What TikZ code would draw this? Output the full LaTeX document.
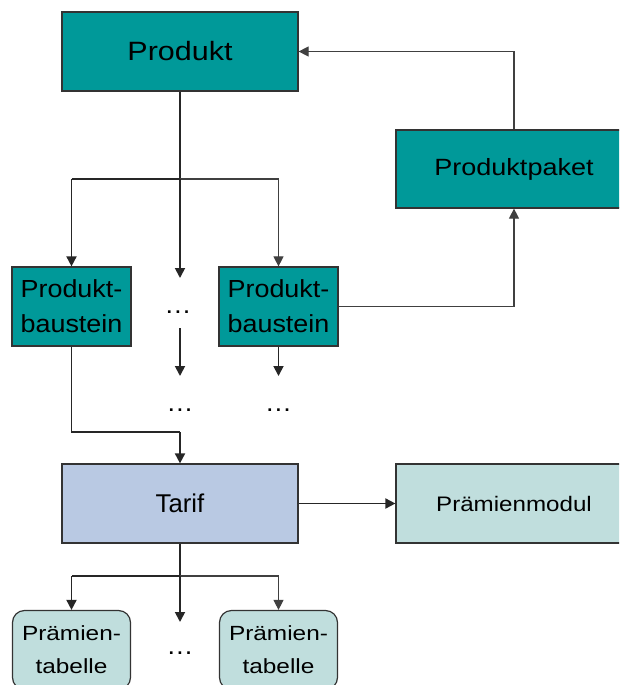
\documentclass[tikz,border=0pt]{standalone}
\usepackage{fontspec}
\setmainfont{Liberation Sans}
\newfontfamily\widesans{Liberation Sans}[FakeStretch=1.15]
\newfontfamily\widersans{Liberation Sans}[FakeStretch=1.19]
\newfontfamily\halfwidesans{Liberation Sans}[FakeStretch=1.09]
\usetikzlibrary{arrows.meta}
\definecolor{tealfill}{HTML}{009999}
\definecolor{tariffill}{HTML}{B9C9E3}
\definecolor{palefill}{HTML}{C0DEDD}
\definecolor{edge}{HTML}{333333}
\tikzset{
  box/.style={draw=edge, line width=1.2pt, rectangle, inner sep=0pt, align=center},
  mainbox/.style={box, fill=tealfill, minimum width=236pt, minimum height=79pt,
    font=\widesans\fontsize{26.5}{32}\selectfont},
  pkgbox/.style={box, fill=tealfill, minimum width=236pt, minimum height=78pt,
    font=\widesans\fontsize{23.5}{30}\selectfont},
  bausteinbox/.style={box, fill=tealfill, minimum width=119pt, minimum height=79pt,
    font=\halfwidesans\fontsize{24.7}{34.7}\selectfont},
  tarifbox/.style={box, fill=tariffill, minimum width=236pt, minimum height=79pt,
    font=\fontsize{25.7}{30}\selectfont},
  modulbox/.style={box, fill=palefill, minimum width=236pt, minimum height=79pt,
    font=\widesans\fontsize{21}{26}\selectfont},
  tabellebox/.style={box, fill=palefill, rounded corners=12pt, minimum width=118pt,
    minimum height=79pt, font=\widersans\fontsize{20.5}{33.3}\selectfont},
  dots/.style={font=\halfwidesans\fontsize{25}{30}\selectfont, inner sep=0pt},
  link/.style={draw=black!85, line width=1.8pt},
  thinlink/.style={draw=black!75, line width=1.1pt},
  tip/.style={-{Triangle[width=10pt,length=10pt]}},
}
\begin{document}
\begin{tikzpicture}[x=1pt,y=1pt]
  \useasboundingbox (0,0) rectangle (619,-685);
  \clip (0,0) rectangle (619,-685);

  % boxes
  \node[mainbox] (prod) at (180,-51.5) {Produkt};
  \node[pkgbox] (paket) at (514,-169) {Produktpaket};
  \node[bausteinbox] (pb1) at (71.5,-306.5) {Produkt-\\baustein};
  \node[bausteinbox] (pb2) at (278.5,-306.5) {Produkt-\\baustein};
  \node[tarifbox] (tarif) at (180,-503.5) {Tarif};
  \node[modulbox] (modul) at (514,-503.5) {Prämienmodul};
  \node[tabellebox] (pt1) at (71.5,-650) {Prämien-\\tabelle};
  \node[tabellebox] (pt2) at (278.5,-650) {Prämien-\\tabelle};

  % ellipses for further elements
  \node[dots] (dA) at (178,-312.5) {…};
  \node[dots] (dB) at (180,-410) {…};
  \node[dots] (dC) at (278.5,-410) {…};
  \node[dots] (dD) at (180,-653) {…};

  % junction points
  \coordinate (j1) at (180,-179);
  \coordinate (m1) at (180,-278);
  \coordinate (m2) at (180,-328);
  \coordinate (m3) at (180,-376);
  \coordinate (c3) at (278.5,-376);
  \coordinate (e1) at (180,-432);
  \coordinate (j2) at (180,-576);
  \coordinate (m4) at (180,-622);

  % Produkt -> Produktbausteine
  \draw[link] (prod.south) -- (j1);
  \draw[link] (71.5,-179) -- (j1);
  \draw[thinlink] (j1) -- (278.5,-179);
  \draw[link,tip] (71.5,-179) -- (pb1.north);
  \draw[thinlink,tip] (278.5,-179) -- (pb2.north);
  \draw[link,tip] (j1) -- (m1);

  % Produktbaustein -> Produktpaket -> Produkt
  \draw[thinlink,tip] (pb2.east) -| (paket.south);
  \draw[thinlink,tip] (paket.north) |- (prod.east);

  % further levels below
  \draw[link,tip] (m2) -- (m3);
  \draw[link,tip] (pb2.south) -- (c3);

  % Produktbaustein -> Tarif
  \draw[link] (pb1.south) |- (e1);
  \draw[link,tip] (e1) -- (tarif.north);

  % Tarif -> Prämienmodul
  \draw[link,tip] (tarif.east) -- (modul.west);

  % Tarif -> Prämientabellen
  \draw[link] (tarif.south) -- (j2);
  \draw[link] (j2) -- (71.5,-576);
  \draw[thinlink] (j2) -- (278.5,-576);
  \draw[link,tip] (71.5,-576) -- (pt1.north);
  \draw[thinlink,tip] (278.5,-576) -- (pt2.north);
  \draw[link,tip] (j2) -- (m4);
\end{tikzpicture}
\end{document}
